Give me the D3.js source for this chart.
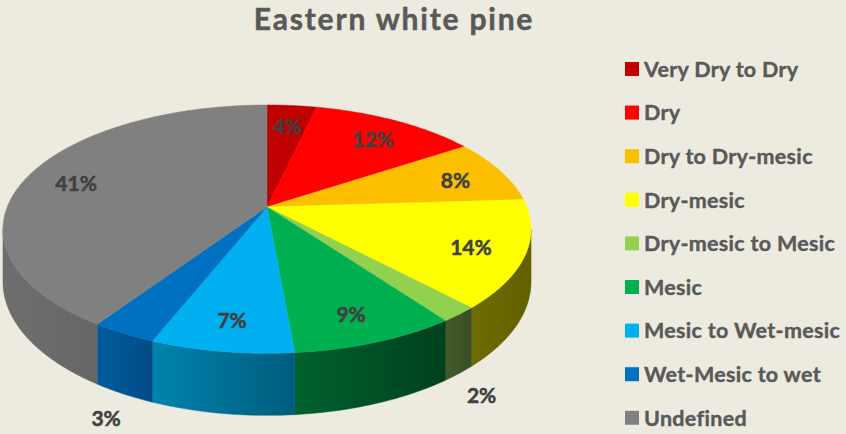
<!DOCTYPE html>
<html><head><meta charset="utf-8">
<script src="https://cdnjs.cloudflare.com/ajax/libs/d3/7.8.5/d3.min.js"></script>
<style>html,body{margin:0;padding:0;background:#EDEBE0;}svg{display:block;}</style>
</head><body><div id="chart"></div>
<script>
const title = "Eastern white pine";
const categories = ["Very Dry to Dry","Dry","Dry to Dry-mesic","Dry-mesic","Dry-mesic to Mesic","Mesic","Mesic to Wet-mesic","Wet-Mesic to wet","Undefined"];
const values = [3.6,12.1,8.3,14,2,8.6,7.4,3.4,40.6];
const labels = ["4%","12%","8%","14%","2%","9%","7%","3%","41%"];
const topColors = ["#C00000","#FF0000","#FBBF00","#FFFF00","#92D050","#00B050","#00B0F0","#0070C0","#808080"];
const sideLeft  = ["#7a0000","#a00000","#9a7400","#6e6c00","#43592a","#00622f","#0084ad","#005c9e","#6e6e6e"];
const sideRight = ["#5c0000","#800000","#7c5d00","#626000","#3a5023","#00401d","#005c7e","#004c86","#666666"];

const W = 846, H = 434;
const svg = d3.select("#chart").append("svg").attr("width", W).attr("height", H);
svg.append("rect").attr("width", W).attr("height", H).attr("fill", "#EDEBE0");

// 3D projection parameters
const cx = 267, cy = 207, R = 259.8, A = 120.2, K = -0.1784, D = 51;
function proj(r, phi, bottom) {
  const sx = r * Math.sin(phi), sf = -r * Math.cos(phi);
  const den = 1 + K * sf;
  return [cx + R * sx / den, cy + A * sf / den + (bottom ? D / den : 0)];
}
const pie = d3.pie().sort(null).value(d => d)(values);

function arcPts(a0, a1, bottom) {
  const n = Math.max(2, Math.ceil((a1 - a0) / 0.01));
  const pts = [];
  for (let i = 0; i <= n; i++) pts.push(proj(1, a0 + (a1 - a0) * i / n, bottom));
  return pts;
}
const line = d3.line();

const defs = svg.append("defs");
const visLo = Math.acos(K), visHi = 2 * Math.PI - Math.acos(K);

// side walls
pie.forEach((p, i) => {
  const a0 = Math.max(p.startAngle, visLo), a1 = Math.min(p.endAngle, visHi);
  if (a1 <= a0) return;
  const g = defs.append("linearGradient").attr("id", "g" + i)
    .attr("x1", "0").attr("x2", "1").attr("y1", "0").attr("y2", "0");
  g.append("stop").attr("offset", "0").attr("stop-color", sideLeft[i]);
  g.append("stop").attr("offset", "1").attr("stop-color", sideRight[i]);
  const pts = arcPts(a0, a1, false).concat(arcPts(a0, a1, true).reverse());
  svg.append("path").attr("d", line(pts) + "Z").attr("fill", "url(#g" + i + ")")
    .attr("stroke", "url(#g" + i + ")").attr("stroke-width", 0.5);
});

// top faces
pie.forEach((p, i) => {
  const pts = [[cx, cy]].concat(arcPts(p.startAngle, p.endAngle, false));
  svg.append("path").attr("d", line(pts) + "Z").attr("fill", topColors[i])
    .attr("stroke", topColors[i]).attr("stroke-width", 0.5);
});

// data labels
const fontFam = "Lato, 'Open Sans', sans-serif";
pie.forEach((p, i) => {
  const mid = (p.startAngle + p.endAngle) / 2;
  let pos;
  if (values[i] < 3.5) {
    pos = proj(1.1, mid, true); pos[1] += 8;
  } else {
    pos = proj(0.8, mid, false); pos[1] += 3;
  }
  svg.append("text").attr("x", pos[0]).attr("y", pos[1]).attr("dy", "0.36em")
    .attr("text-anchor", "middle").attr("font-family", fontFam).attr("font-weight", 700)
    .attr("font-size", 21).attr("fill", "#404040")
    .attr("stroke", "#404040").attr("stroke-width", 0.5).text(labels[i]);
});

// title
svg.append("text").attr("x", 394).attr("y", 30).attr("text-anchor", "middle")
  .attr("font-family", fontFam).attr("font-weight", 700).attr("font-size", 30)
  .attr("letter-spacing", 1.8)
  .attr("fill", "#595959").attr("stroke", "#595959").attr("stroke-width", 0.5).text(title);

// legend
const ly = d3.scalePoint().domain(categories).range([69, 69 + 43.6 * 8]);
const leg = svg.append("g");
categories.forEach((c, i) => {
  const y = ly(c);
  leg.append("rect").attr("x", 625).attr("y", y - 7).attr("width", 14).attr("height", 14).attr("fill", topColors[i]);
  leg.append("text").attr("x", 644).attr("y", y).attr("dy", "0.36em")
    .attr("font-family", fontFam).attr("font-weight", 700).attr("font-size", 21.5)
    .attr("letter-spacing", 0.3)
    .attr("fill", "#595959").attr("stroke", "#595959").attr("stroke-width", 0.4).text(c);
});
</script></body></html>
